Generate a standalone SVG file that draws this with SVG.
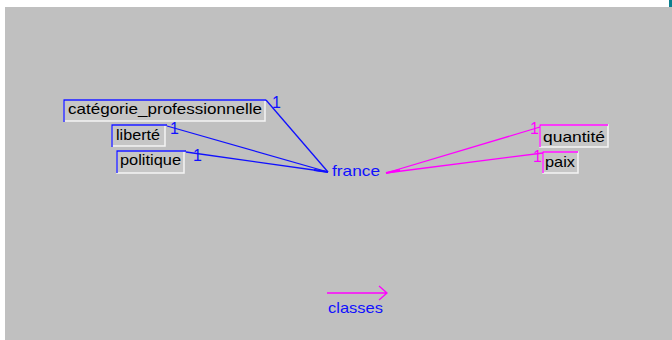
<svg xmlns="http://www.w3.org/2000/svg" width="672" height="340" viewBox="0 0 672 340">
<style>
text{font-family:"Liberation Sans",Arial,sans-serif;font-size:15px}
.lbl{fill:#000}
.blue{stroke:#1010ff;fill:none;stroke-width:1.3}
.mag{stroke:#ff00ff;fill:none;stroke-width:1.3}
.box{fill:#c6c6c6;stroke:#f4f4f4;stroke-width:1.5}
.bt{fill:#1010ff;font-size:16px}
.mt{fill:#ff00ff;font-size:16px}
</style>
<rect x="0" y="0" width="672" height="340" fill="#ffffff"/>
<rect x="5" y="7" width="667" height="333" fill="#c0c0c0"/>
<rect x="669" y="0" width="3" height="7" fill="#0a7f8f"/>

<g id="node-categorie">
<rect class="box" x="64" y="100" width="201" height="21"/>
<path class="blue" d="M64,122 V100 H266"/>
<text class="lbl" x="68" y="114" textLength="194" lengthAdjust="spacingAndGlyphs">catégorie_professionnelle</text>
</g>
<g id="node-liberte">
<rect class="box" x="112" y="125" width="53" height="21"/>
<path class="blue" d="M112,147 V125 H167"/>
<text class="lbl" x="116" y="140" textLength="44" lengthAdjust="spacingAndGlyphs">liberté</text>
</g>
<g id="node-politique">
<rect class="box" x="117" y="151" width="67" height="22"/>
<path class="blue" d="M117,173 V151 H186"/>
<text class="lbl" x="120" y="165" textLength="61" lengthAdjust="spacingAndGlyphs">politique</text>
</g>
<g id="node-france">
<text x="332" y="176" fill="#1010ff" textLength="48" lengthAdjust="spacingAndGlyphs">france</text>
</g>
<g id="node-quantite">
<rect class="box" x="540" y="125" width="68" height="22"/>
<path class="mag" d="M540,147 V125 H608"/>
<text class="lbl" x="543" y="142" textLength="62" lengthAdjust="spacingAndGlyphs">quantité</text>
</g>
<g id="node-paix">
<rect class="box" x="543" y="152" width="35" height="21"/>
<path class="mag" d="M543,173 V152 H578"/>
<text class="lbl" x="545" y="167" textLength="30" lengthAdjust="spacingAndGlyphs">paix</text>
</g>

<g id="connectors">
<path class="blue" d="M266,100 L328,172"/>
<path class="blue" d="M167,126 L328,172"/>
<path class="blue" d="M186,152 L328,172"/>
<path d="M314,170 L328,172" stroke="#1010ff" stroke-width="2.2"/>
<text class="bt" x="272" y="108">1</text>
<text class="bt" x="170" y="134">1</text>
<text class="bt" x="193" y="161">1</text>
<path class="mag" d="M386,173 L540,127"/>
<path class="mag" d="M386,173 L543,153"/>
<path d="M386,173 L400,170" stroke="#ff00ff" stroke-width="2.2"/>
<text class="mt" x="530" y="134">1</text>
<text class="mt" x="533" y="162">1</text>
</g>

<g id="legend">
<path class="mag" d="M327,293 H387 M379,286 L387,293 L379,300"/>
<text x="328" y="313" fill="#1010ff" textLength="55" lengthAdjust="spacingAndGlyphs">classes</text>
</g>
</svg>
